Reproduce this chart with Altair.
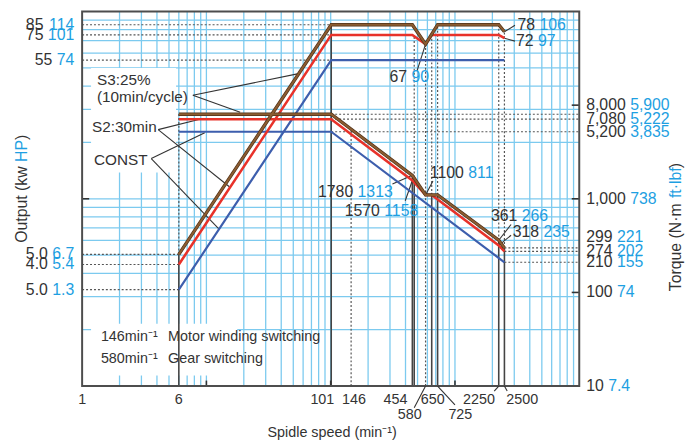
import altair as alt
import pandas as pd

# ------------------------------------------------------------------ data
# Output (kW) curves vs spindle speed (min^-1)
S3_OUT_SPEED = [6, 101, 454, 580, 725, 2250, 2500]
S3_OUT_KW = [5.05, 85, 85, 67, 85, 85, 78]
S2_OUT_SPEED = [6, 101, 454, 580, 650, 2250, 2500]
S2_OUT_KW = [4.46, 75, 75, 67, 75, 75, 72]
CONST_OUT_SPEED = [6, 101, 2500]
CONST_OUT_KW = [3.27, 55, 55]

# Torque (N·m) curves vs spindle speed
S3_TQ_SPEED = [6, 101, 454, 580, 725, 2250, 2500]
S3_TQ_NM = [8000, 8000, 1780, 1100, 1100, 361, 299]
S2_TQ_SPEED = [6, 101, 454, 580, 650, 2250, 2500]
S2_TQ_NM = [7080, 7080, 1570, 1100, 1100, 318, 274]
CONST_TQ_SPEED = [6, 101, 2500]
CONST_TQ_NM = [5200, 5200, 210]

# grid positions
GRID_X = [2, 3, 4, 5, 6, 7, 8, 9, 10, 20, 30, 40, 50, 60, 70, 80, 90, 100,
          200, 300, 400, 500, 600, 700, 800, 900, 1000,
          2000, 3000, 4000, 5000, 6000, 7000, 8000, 9000]
GRID_Y = [2, 3, 4, 5, 6, 7, 8, 9, 10, 20, 30, 40, 50, 60, 70, 80, 90]

# left axis labels (kW / HP)
LEFT_Y = [85, 75, 55, 5.05, 4.46, 3.27]
LEFT_KW = ["85", "75", "55", "5.0", "4.0", "5.0"]
LEFT_HP = ["114", "101", "74", "6.7", "5.4", "1.3"]

# right axis labels (N·m / ft·lbf)
RIGHT_Y = [10000, 7080, 5200, 1000, 389, 274, 210, 100, 10]
RIGHT_NM = ["8,000", "7,080", "5,200", "1,000", "299", "274", "210", "100", "10"]
RIGHT_FT = ["5,900", "5,222", "3,835", "738", "221", "202", "155", "74", "7.4"]
RIGHT_TICKS = [10, 100, 1000, 10000]

# x axis labels
X_LAB1 = ["1", "6", "101", "146", "454", "650", "2250", "2500"]
X_LAB1_SPEED = [1, 6, 101, 146, 454, 650, 2250, 2500]
X_LAB1_DX = [0, 0, -9, 3, -17, 1, -20, 18]
X_LAB2 = ["580", "725"]
X_LAB2_SPEED = [580, 725]
X_LAB2_DX = [-16, 23]
X_LEAD_TOP = [580, 725, 2250, 2500]
X_LEAD_BOT = [470, 1000, 2070, 2630]
X_LEAD_DEPTH = [22, 19, 5, 5]

# reference lines
VSOLID_X = [6, 101, 454, 470, 650, 725, 2250, 2500]
VSOLID_TOP = [5.05, 85, 13.3, 13.0, 10.5, 10.5, 6.0, 5.47]
VDOT_X = [6, 146, 470, 580, 650, 725, 2250, 2500]
VDOT_BOT = [5.05, 1, 13.0, 1, 10.5, 10.5, 6.0, 5.47]
VDOT_TOP = [28.4, 23.5, 75, 67, 75, 85, 85, 78]
HDOT_OUT_Y = [85, 75, 55, 5.05, 4.46, 3.27]
HDOT_OUT_X2 = [101, 101, 101, 6, 6, 6]
HDOT_TQ_Y = [8000, 7080, 5200, 299, 274, 210]
HDOT_TQ_X1 = [101, 101, 101, 2500, 2500, 2500]

# annotations: value labels
ANN_OUT_X = [4590, 4467, 429]
ANN_OUT_Y = [84.4, 69.5, 44.4]
ANN_OUT_K = ["78", "72", "67"]
ANN_OUT_B = ["106", "97", "90"]
ANN_TQ_X = [158, 259, 1229, 3304, 4943]
ANN_TQ_Y = [1186, 748, 1878, 647, 439]
ANN_TQ_K = ["1780", "1570", "1100", "361", "318"]
ANN_TQ_B = ["1313", "1158", "811", "266", "235"]

# leader lines
LEAD_OUT = [  # x1, y1, x2, y2  (output scale)
    (3041, 84.4, 2500, 78), (3041, 69.5, 2500, 72), (496, 48.3, 580, 67),
    (7.78, 35.7, 55.2, 46.6), (7.78, 35.7, 18.7, 29.0),
    (4.09, 23.4, 9.0, 26.7), (4.09, 23.4, 15.3, 11.6),
    (3.6, 16.4, 9.7, 22.5), (3.6, 16.4, 12.7, 6.87)]
LEAD_TQ = [  # torque scale
    (314, 1438, 454, 1780), (398, 953, 454, 1570), (665, 1548, 580, 1100),
    (2827, 532, 2250, 361), (2827, 408, 2250, 318)]

SERIES_LABELS = ["S3:25%", "(10min/cycle)", "S2:30min", "CONST"]
SERIES_LABEL_X = [1.316, 1.316, 1.201, 1.246]
SERIES_LABEL_Y = [42.8, 34.8, 24.2, 16.2]

NOTE_LEFT = ["146min⁻¹", "580min⁻¹"]
NOTE_RIGHT = ["Motor winding switching", "Gear switching"]
NOTE_Y = [1.83, 1.39]

BOX_X1 = [1.18, 1.18]
BOX_X2 = [5.7, 17.7]
BOX_Y1 = [50, 2.15]
BOX_Y2 = [13.8, 1.14]

# ------------------------------------------------------------------ style
FONT = "Liberation Sans"
DARK = "#333333"
CYAN = "#1e9fe2"
GRID = "#7ccaef"
BROWN = "#8c5c31"
BROWN_EDGE = "#4f3219"
RED = "#e8322a"
BLUE = "#3d5ead"
W, H = 503, 379

AW = {c: 0.556 for c in "0123456789"}
AW.update({" ": 0.278, ",": 0.278, ".": 0.278, "(": 0.333, ")": 0.333, "·": 0.278,
           "O": 0.778, "H": 0.722, "P": 0.667, "T": 0.611, "N": 0.722,
           "u": 0.556, "t": 0.278, "p": 0.556, "k": 0.5, "w": 0.722, "o": 0.556,
           "r": 0.333, "q": 0.556, "e": 0.556, "m": 0.833, "f": 0.278, "l": 0.222,
           "b": 0.556})


def tw(s, fs):
    return sum(AW.get(c, 0.556) for c in s) * fs


xs = alt.Scale(type="log", domain=[1, 10000], nice=False)
yo = alt.Scale(type="log", domain=[1, 100], nice=False)
yt = alt.Scale(type="log", domain=[10, 100000], nice=False)


def X(f="x"):
    return alt.X(f"{f}:Q", scale=xs, axis=None)


def YO(f="y"):
    return alt.Y(f"{f}:Q", scale=yo, axis=None)


def YT(f="y"):
    return alt.Y(f"{f}:Q", scale=yt, axis=None)


layers = []

# grid
layers.append(alt.Chart(pd.DataFrame({"x": GRID_X, "y": 1, "y2": 100}))
              .mark_rule(color=GRID, strokeWidth=1.3)
              .encode(x=X(), y=YO(), y2=alt.Y2("y2:Q")))
layers.append(alt.Chart(pd.DataFrame({"y": GRID_Y, "x": 1, "x2": 10000}))
              .mark_rule(color=GRID, strokeWidth=1.3)
              .encode(x=X(), x2=alt.X2("x2:Q"), y=YO()))

# white label boxes
layers.append(alt.Chart(pd.DataFrame({"x": BOX_X1, "x2": BOX_X2, "y": BOX_Y1, "y2": BOX_Y2}))
              .mark_rect(color="white")
              .encode(x=X(), x2=alt.X2("x2:Q"), y=YO(), y2=alt.Y2("y2:Q")))

# reference lines
layers.append(alt.Chart(pd.DataFrame({"x": VSOLID_X, "y": 1, "y2": VSOLID_TOP}))
              .mark_rule(color="#444444", strokeWidth=1.6)
              .encode(x=X(), y=YO(), y2=alt.Y2("y2:Q")))
layers.append(alt.Chart(pd.DataFrame({"x": VDOT_X, "y": VDOT_BOT, "y2": VDOT_TOP}))
              .mark_rule(color="#555555", strokeWidth=1.2, strokeDash=[2, 2])
              .encode(x=X(), y=YO(), y2=alt.Y2("y2:Q")))
layers.append(alt.Chart(pd.DataFrame({"y": HDOT_OUT_Y, "x": 1, "x2": HDOT_OUT_X2}))
              .mark_rule(color="#555555", strokeWidth=1.2, strokeDash=[2, 2])
              .encode(x=X(), x2=alt.X2("x2:Q"), y=YO()))
layers.append(alt.Chart(pd.DataFrame({"y": HDOT_TQ_Y, "x": HDOT_TQ_X1, "x2": 10000}))
              .mark_rule(color="#555555", strokeWidth=1.2, strokeDash=[2, 2])
              .encode(x=X(), x2=alt.X2("x2:Q"), y=YT()))

# ticks
layers.append(alt.Chart(pd.DataFrame({"y": RIGHT_TICKS, "x": 8700, "x2": 10000}))
              .mark_rule(color=DARK, strokeWidth=1.6)
              .encode(x=X(), x2=alt.X2("x2:Q"), y=YT()))
layers.append(alt.Chart(pd.DataFrame({"y": [10], "x": 1, "x2": 1.14}))
              .mark_rule(color=DARK, strokeWidth=1.6)
              .encode(x=X(), x2=alt.X2("x2:Q"), y=YO()))
layers.append(alt.Chart(pd.DataFrame({"x": [10, 100, 1000], "y": 1, "y2": 1.07}))
              .mark_rule(color=DARK, strokeWidth=1.6)
              .encode(x=X(), y=YO(), y2=alt.Y2("y2:Q")))

# leader lines
lo = pd.DataFrame(LEAD_OUT, columns=["x", "y", "x2", "y2"])
layers.append(alt.Chart(lo).mark_rule(color=DARK, strokeWidth=1.1)
              .encode(x=X(), y=YO(), x2=alt.X2("x2:Q"), y2=alt.Y2("y2:Q")))
lt = pd.DataFrame(LEAD_TQ, columns=["x", "y", "x2", "y2"])
layers.append(alt.Chart(lt).mark_rule(color=DARK, strokeWidth=1.1)
              .encode(x=X(), y=YT(), x2=alt.X2("x2:Q"), y2=alt.Y2("y2:Q")))


# curves
def curve(sp, val, color, width, scale_fn):
    return (alt.Chart(pd.DataFrame({"x": sp, "y": val}))
            .mark_line(color=color, strokeWidth=width)
            .encode(x=X(), y=scale_fn()))


layers.append(curve(CONST_OUT_SPEED, CONST_OUT_KW, BLUE, 2.2, YO))
layers.append(curve(CONST_TQ_SPEED, CONST_TQ_NM, BLUE, 2.2, YT))
layers.append(curve(S2_OUT_SPEED, S2_OUT_KW, RED, 2.6, YO))
layers.append(curve(S2_TQ_SPEED, S2_TQ_NM, RED, 2.6, YT))
layers.append(curve(S3_OUT_SPEED, S3_OUT_KW, BROWN_EDGE, 3.4, YO))
layers.append(curve(S3_TQ_SPEED, S3_TQ_NM, BROWN_EDGE, 3.4, YT))
layers.append(curve(S3_OUT_SPEED, S3_OUT_KW, BROWN, 2.0, YO))
layers.append(curve(S3_TQ_SPEED, S3_TQ_NM, BROWN, 2.0, YT))

# border
layers.append(alt.Chart(pd.DataFrame({"x": [1], "x2": [10000], "y": [1], "y2": [100]}))
              .mark_rect(fillOpacity=0, stroke="#4d4d4d", strokeWidth=2)
              .encode(x=X(), x2=alt.X2("x2:Q"), y=YO(), y2=alt.Y2("y2:Q")))

FS = 16
SP = tw(" ", FS)

# left axis labels
layers.append(alt.Chart(pd.DataFrame({"y": LEFT_Y, "t": LEFT_HP}))
              .mark_text(font=FONT, fontSize=FS, color=CYAN, align="right", baseline="middle")
              .encode(x=alt.value(-8), y=YO(), text="t:N"))
for yv, k, b in zip(LEFT_Y, LEFT_KW, LEFT_HP):
    layers.append(alt.Chart(pd.DataFrame({"y": [yv], "t": [k]}))
                  .mark_text(font=FONT, fontSize=FS, color=DARK, align="right", baseline="middle")
                  .encode(x=alt.value(-8 - tw(b, FS) - SP), y=YO(), text="t:N"))

# right axis labels
layers.append(alt.Chart(pd.DataFrame({"y": RIGHT_Y, "t": RIGHT_NM}))
              .mark_text(font=FONT, fontSize=FS, color=DARK, align="left", baseline="middle")
              .encode(x=alt.value(510), y=YT(), text="t:N"))
for yv, k, b in zip(RIGHT_Y, RIGHT_NM, RIGHT_FT):
    layers.append(alt.Chart(pd.DataFrame({"y": [yv], "t": [b]}))
                  .mark_text(font=FONT, fontSize=FS, color=CYAN, align="left", baseline="middle")
                  .encode(x=alt.value(510 + tw(k, FS) + SP), y=YT(), text="t:N"))


# inside value annotations
def pair(xv, yv, k, b, yfn):
    d = pd.DataFrame({"x": xv, "y": yv, "k": k, "b": b})
    return [
        alt.Chart(d).mark_text(font=FONT, fontSize=FS, color=DARK, align="right",
                               baseline="middle", dx=-SP / 2)
        .encode(x=X(), y=yfn(), text="k:N"),
        alt.Chart(d).mark_text(font=FONT, fontSize=FS, color=CYAN, align="left",
                               baseline="middle", dx=SP / 2)
        .encode(x=X(), y=yfn(), text="b:N"),
    ]


layers += pair(ANN_OUT_X, ANN_OUT_Y, ANN_OUT_K, ANN_OUT_B, YO)
layers += pair(ANN_TQ_X, ANN_TQ_Y, ANN_TQ_K, ANN_TQ_B, YT)

# series labels
layers.append(alt.Chart(pd.DataFrame({"x": SERIES_LABEL_X, "y": SERIES_LABEL_Y, "t": SERIES_LABELS}))
              .mark_text(font=FONT, fontSize=15.5, color=DARK, align="left", baseline="middle")
              .encode(x=X(), y=YO(), text="t:N"))

# notes
layers.append(alt.Chart(pd.DataFrame({"x": 1.416, "y": NOTE_Y, "t": NOTE_LEFT}))
              .mark_text(font=FONT, fontSize=14.5, color=DARK, align="left", baseline="middle")
              .encode(x=X(), y=YO(), text="t:N"))
layers.append(alt.Chart(pd.DataFrame({"x": 4.92, "y": NOTE_Y, "t": NOTE_RIGHT}))
              .mark_text(font=FONT, fontSize=14.5, color=DARK, align="left", baseline="middle")
              .encode(x=X(), y=YO(), text="t:N"))

# x axis labels
for t, s, dx in zip(X_LAB1, X_LAB1_SPEED, X_LAB1_DX):
    layers.append(alt.Chart(pd.DataFrame({"x": [s], "t": [t]}))
                  .mark_text(font=FONT, fontSize=14.5, color=DARK, align="center",
                             baseline="middle", dx=dx)
                  .encode(x=X(), y=alt.value(H + 14), text="t:N"))
for t, s, dx in zip(X_LAB2, X_LAB2_SPEED, X_LAB2_DX):
    layers.append(alt.Chart(pd.DataFrame({"x": [s], "t": [t]}))
                  .mark_text(font=FONT, fontSize=14.5, color=DARK, align="center",
                             baseline="middle", dx=dx)
                  .encode(x=X(), y=alt.value(H + 29), text="t:N"))
for top, bot, dep in zip(X_LEAD_TOP, X_LEAD_BOT, X_LEAD_DEPTH):
    layers.append(alt.Chart(pd.DataFrame({"x": [top], "x2": [bot]}))
                  .mark_rule(color=DARK, strokeWidth=1.1)
                  .encode(x=X(), x2=alt.X2("x2:Q"), y=alt.value(H), y2=alt.value(H + dep)))

# titles
layers.append(alt.Chart(pd.DataFrame({"t": ["Spidle speed (min⁻¹)"]}))
              .mark_text(font=FONT, fontSize=14.5, color=DARK, align="center", baseline="middle")
              .encode(x=alt.value(253), y=alt.value(H + 48), text="t:N"))


def rot_title(parts, colors, x0, y0):
    out = []
    y = y0
    for p, c in zip(parts, colors):
        out.append(alt.Chart(pd.DataFrame({"t": [p]}))
                   .mark_text(font=FONT, fontSize=16, color=c, align="left",
                              baseline="middle", angle=270)
                   .encode(x=alt.value(x0), y=alt.value(y), text="t:N"))
        y -= tw(p, 16)
    return out


layers += rot_title(["Output (kw ", "HP", ")"], [DARK, CYAN, DARK], -61, 234)
layers += rot_title(["Torque (N·m ", "ft·lbf", ")"], [DARK, CYAN, DARK], 601, 283)

chart = (alt.layer(*layers)
         .resolve_scale(y="independent")
         .properties(width=W, height=H,
                     autosize=alt.AutoSizeParams(type="none"),
                     padding={"left": 75, "top": 1, "right": 107, "bottom": 52})
         .configure_view(strokeWidth=0))

chart.save("out.html", embed_options={"renderer": "svg", "actions": False})
